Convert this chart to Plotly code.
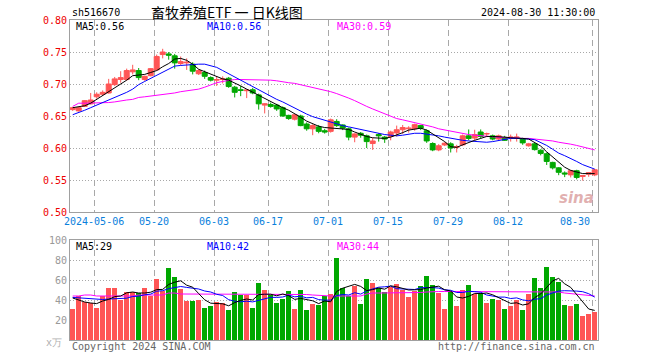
import math
import plotly.graph_objects as go

# ---------------- data ----------------
dates = ["04-25","04-26","04-29","04-30","05-06","05-07","05-08","05-09","05-10","05-13",
         "05-14","05-15","05-16","05-17","05-20","05-21","05-22","05-23","05-24","05-27",
         "05-28","05-29","05-30","05-31","06-03","06-04","06-05","06-06","06-07","06-11",
         "06-12","06-13","06-14","06-17","06-18","06-19","06-20","06-21","06-24","06-25",
         "06-26","06-27","06-28","07-01","07-02","07-03","07-04","07-05","07-08","07-09",
         "07-10","07-11","07-12","07-15","07-16","07-17","07-18","07-19","07-22","07-23",
         "07-24","07-25","07-26","07-29","07-30","07-31","08-01","08-02","08-05","08-06",
         "08-07","08-08","08-09","08-12","08-13","08-14","08-15","08-16","08-19","08-20",
         "08-21","08-22","08-23","08-26","08-27","08-28","08-29","08-30"]

open_ = [0.660,0.658,0.665,0.669,0.680,0.684,0.686,0.699,0.707,0.707,
         0.719,0.721,0.707,0.713,0.722,0.746,0.747,0.744,0.732,0.733,
         0.731,0.716,0.718,0.710,0.706,0.707,0.709,0.695,0.691,0.6895,
         0.691,0.683,0.667,0.668,0.667,0.663,0.651,0.645,0.650,0.6375,
         0.630,0.633,0.627,0.626,0.6415,0.636,0.630,0.617,0.623,0.619,
         0.607,0.621,0.617,0.618,0.6235,0.6285,0.630,0.630,0.635,0.627,
         0.607,0.597,0.6047,0.6065,0.601,0.605,0.619,0.6155,0.625,0.622,
         0.619,0.614,0.6165,0.616,0.616,0.6145,0.6035,0.6065,0.5965,0.591,
         0.5775,0.569,0.561,0.558,0.5645,0.5555,0.559,0.558]
high = [0.664,0.664,0.675,0.686,0.687,0.690,0.708,0.711,0.720,0.724,
        0.730,0.725,0.713,0.725,0.746,0.755,0.750,0.747,0.743,0.740,
        0.734,0.723,0.721,0.712,0.712,0.712,0.711,0.697,0.697,0.692,
        0.694,0.685,0.670,0.671,0.669,0.665,0.652,0.653,0.652,0.640,
        0.637,0.636,0.630,0.646,0.645,0.637,0.632,0.623,0.625,0.621,
        0.6155,0.623,0.619,0.627,0.635,0.636,0.634,0.638,0.636,0.629,
        0.609,0.606,0.609,0.609,0.605,0.621,0.629,0.6285,0.629,0.624,
        0.621,0.621,0.619,0.621,0.6225,0.616,0.608,0.608,0.598,0.593,
        0.5785,0.570,0.5635,0.566,0.566,0.557,0.5625,0.5675]
low = [0.658,0.657,0.664,0.668,0.677,0.682,0.685,0.697,0.702,0.705,
       0.715,0.706,0.705,0.712,0.721,0.740,0.738,0.724,0.729,0.722,
       0.715,0.714,0.708,0.704,0.697,0.701,0.694,0.679,0.681,0.678,
       0.684,0.660,0.654,0.663,0.658,0.649,0.644,0.643,0.634,0.627,
       0.620,0.623,0.6225,0.624,0.633,0.628,0.612,0.609,0.616,0.600,
       0.597,0.610,0.608,0.612,0.618,0.622,0.624,0.627,0.628,0.608,
       0.595,0.595,0.603,0.593,0.593,0.603,0.612,0.612,0.615,0.617,
       0.612,0.611,0.611,0.610,0.610,0.605,0.602,0.596,0.5885,0.5735,
       0.5665,0.5575,0.5545,0.554,0.551,0.549,0.555,0.556]
close = [0.663,0.663,0.674,0.675,0.684,0.687,0.700,0.708,0.710,0.721,
         0.722,0.710,0.712,0.724,0.743,0.750,0.745,0.733,0.735,0.734,
         0.720,0.721,0.712,0.706,0.707,0.708,0.696,0.687,0.690,0.6905,
         0.686,0.669,0.669,0.665,0.661,0.650,0.646,0.652,0.635,0.630,
         0.635,0.626,0.625,0.644,0.635,0.631,0.617,0.622,0.620,0.610,
         0.611,0.619,0.614,0.625,0.6285,0.632,0.631,0.6365,0.631,0.611,
         0.597,0.6035,0.6075,0.600,0.602,0.619,0.615,0.621,0.618,0.6225,
         0.614,0.619,0.612,0.617,0.617,0.608,0.6065,0.5975,0.5915,0.579,
         0.569,0.562,0.5595,0.5645,0.554,0.557,0.5615,0.566]

ma5 = [0.663,0.664,0.666,0.670,0.676,0.681,0.687,0.694,0.700,0.706,
       0.713,0.714,0.715,0.718,0.721,0.727,0.732,0.739,0.740,0.737,
       0.731,0.723,0.719,0.715,0.711,0.708,0.706,0.702,0.697,0.692,
       0.687,0.682,0.677,0.672,0.668,0.663,0.659,0.654,0.648,0.642,
       0.638,0.634,0.632,0.631,0.631,0.630,0.629,0.625,0.621,0.618,
       0.616,0.615,0.615,0.617,0.620,0.624,0.628,0.630,0.631,0.628,
       0.622,0.617,0.610,0.602,0.601,0.605,0.609,0.612,0.615,0.618,
       0.618,0.618,0.617,0.616,0.616,0.615,0.614,0.609,0.603,0.594,
       0.586,0.577,0.570,0.565,0.562,0.560,0.560,0.560]
ma10 = [0.652,0.655,0.659,0.663,0.667,0.671,0.675,0.679,0.682,0.687,
        0.692,0.699,0.704,0.709,0.714,0.718,0.723,0.728,0.729,0.730,
        0.730,0.731,0.731,0.729,0.726,0.721,0.716,0.711,0.706,0.700,
        0.695,0.690,0.685,0.681,0.676,0.672,0.667,0.662,0.657,0.653,
        0.649,0.646,0.644,0.641,0.638,0.635,0.633,0.631,0.628,0.626,
        0.624,0.622,0.621,0.620,0.619,0.620,0.622,0.623,0.623,0.622,
        0.621,0.619,0.617,0.615,0.613,0.612,0.611,0.610,0.609,0.609,
        0.610,0.612,0.613,0.615,0.615,0.615,0.614,0.613,0.609,0.604,
        0.598,0.592,0.588,0.584,0.579,0.574,0.570,0.567]
ma30 = [0.665,0.670,0.670,0.670,0.671,0.671,0.671,0.672,0.674,0.675,
        0.676,0.679,0.680,0.681,0.682,0.684,0.685,0.686,0.688,0.689,
        0.690,0.692,0.695,0.699,0.702,0.704,0.706,0.707,0.707,0.707,
        0.707,0.707,0.707,0.706,0.705,0.703,0.702,0.701,0.699,0.697,
        0.695,0.693,0.691,0.688,0.685,0.682,0.678,0.674,0.669,0.665,
        0.661,0.657,0.653,0.649,0.646,0.644,0.642,0.640,0.638,0.636,
        0.633,0.630,0.628,0.626,0.624,0.622,0.621,0.620,0.619,0.618,
        0.617,0.617,0.616,0.616,0.615,0.615,0.615,0.614,0.614,0.613,
        0.611,0.609,0.608,0.606,0.604,0.602,0.600,0.597]

volume = [31,44,38,37,32,44,52,52,40,48,
          48,47,52,44,61,49,72,63,51,39,
          39,40,32,34,38,37,30,48,45,45,
          32,57,50,45,37,41,49,31,50,30,
          36,35,44,46,82,52,44,54,36,61,
          57,52,48,53,56,50,43,49,54,64,
          55,47,31,48,34,50,55,46,47,37,
          41,40,31,34,40,30,46,62,52,73,
          63,58,35,34,36,24,26,28]
vma5 = [42,40,38,37,36.4,39,40.6,43.4,44,47.2,
        48,47,47,47.8,50.4,50.6,55.6,57.8,59.2,54.8,
        52.8,46.4,40.2,36.8,36.6,36.2,34.2,37.4,39.6,41,
        40,45.4,45.8,45.8,44.2,46,44.4,40.6,41.6,40.2,
        39.2,36.4,39,38.2,48.6,51.8,53.6,55.6,53.6,49.4,
        50.4,52,50.8,54.2,53.2,51.8,50,50.2,50.4,52,
        53,53.8,50.2,49,43,42,43.6,46.6,46.4,47,
        45.2,42.2,39.2,36.6,37.2,35,36.2,42.4,46,52.6,
        59.2,61.6,56.2,52.6,45.2,37.4,31,29.6]
vma10 = [42.6,42.2,41.6,41,40.4,40.5,41,41.3,42,41.8,
         43.5,43.8,45.2,45.9,48.8,49.3,51.3,52.4,53.5,52.6,
         51.7,51,49,48,45.7,44.5,40.3,38.8,38.2,38.8,
         38.1,39.8,41.6,42.7,42.6,43,44.9,43.2,43.7,42.2,
         42.6,40.4,39.8,39.9,44.4,45.5,45,47.3,45.9,49,
         51.1,52.8,53.2,53.9,51.3,51.1,51,50.5,52.3,52.6,
         52.4,51.9,50.2,49.7,47.5,47.5,48.7,48.4,47.7,45,
         43.6,42.9,42.9,41.5,42.1,40.1,39.2,40.8,41.3,44.9,
         47.1,48.9,49.3,49.3,48.9,48.3,46.3,42.9]
vma30 = [44,44,45,45,44,44,44,44,44,44,
         44,45,45,45,45,45,47,47,46,46,
         46,46,46,46,46,46,46,46,46,46,
         46,46,46,46,46,46,46,46,46,45.5,
         45,44.5,44,44,44,44,44,44,44,46,
         47,47,47,47,47,47,47,47,47.5,48,
         48.5,48.5,48.5,48.5,48.5,48.5,48.5,48.5,48.5,48.5,
         48.5,48.5,48.5,48.5,48.5,48.5,48.5,48,48,48.5,
         48.5,48,47,46.5,46,45,44.5,44]

price_ticks = [0.50, 0.55, 0.60, 0.65, 0.70, 0.75, 0.80]
vol_ticks = [20, 40, 60, 80, 100]
label_dates = ["2024-05-06", "05-20", "06-03", "06-17", "07-01", "07-15", "07-29", "08-12", "08-30"]
label_days = ["05-06", "05-20", "06-03", "06-17", "07-01", "07-15", "07-29", "08-12", "08-30"]

# ---------------- figure ----------------
RED = "#ff5555"
GREEN = "#00a800"
FONT = "DejaVu Sans Mono"
GRID = "#a8a8a8"
FRAME = "#a0a0a0"

def trunc2(v):
    return "%.2f" % (math.floor(v * 100 + 1e-9) / 100)

x = list(range(len(dates)))
grid_x = [dates.index(d) - 0.38 for d in label_days]

fig = go.Figure()
fig.add_trace(go.Candlestick(
    x=x, open=open_, high=high, low=low, close=close,
    increasing=dict(line=dict(color=RED, width=1), fillcolor=RED),
    decreasing=dict(line=dict(color=GREEN, width=1), fillcolor=GREEN),
    whiskerwidth=0, xaxis="x", yaxis="y", showlegend=False, hoverinfo="skip"))
for arr, col in [(ma30, "#ff00ff"), (ma10, "#0000ff"), (ma5, "#000000")]:
    fig.add_trace(go.Scatter(x=x, y=arr, mode="lines", line=dict(color=col, width=1),
                             xaxis="x", yaxis="y", showlegend=False, hoverinfo="skip"))

bar_colors = [RED if c >= o else GREEN for o, c in zip(open_, close)]
fig.add_trace(go.Bar(x=x, y=volume, marker=dict(color=bar_colors, line=dict(width=0)),
                     width=0.83, xaxis="x2", yaxis="y2", showlegend=False, hoverinfo="skip"))
for arr, col in [(vma30, "#ff00ff"), (vma10, "#0000ff"), (vma5, "#000000")]:
    fig.add_trace(go.Scatter(x=x, y=arr, mode="lines", line=dict(color=col, width=1),
                             xaxis="x2", yaxis="y2", showlegend=False, hoverinfo="skip"))

xcommon = dict(range=[-0.45, 87.55], tickvals=grid_x, showticklabels=False, ticks="",
               showgrid=True, gridcolor=GRID, griddash="6px,4px", gridwidth=1,
               showline=True, mirror=True, linecolor=FRAME, linewidth=1,
               zeroline=False, rangeslider=dict(visible=False), fixedrange=True)

fig.update_layout(
    width=660, height=360,
    margin=dict(l=70, r=62, t=20, b=20),
    paper_bgcolor="white", plot_bgcolor="white",
    font=dict(family=FONT, size=10, color="#000"),
    boxgap=0.17, boxgroupgap=0,
    bargap=0,
    xaxis=dict(domain=[0, 1], anchor="y", **xcommon),
    xaxis2=dict(domain=[0, 1], anchor="y2", matches="x", **xcommon),
    yaxis=dict(domain=[0.4, 1.0], range=[0.5, 0.8], tickvals=price_ticks,
               ticktext=["%.2f" % v for v in price_ticks],
               tickfont=dict(color="#ee0000", family=FONT, size=10), ticks="",
               showgrid=True, gridcolor=GRID, griddash="1px,2px", zeroline=False,
               showline=True, mirror=True, linecolor=FRAME, linewidth=1, fixedrange=True),
    yaxis2=dict(domain=[0, 0.3125], range=[0, 100], tickvals=vol_ticks,
                ticktext=[str(v) for v in vol_ticks],
                tickfont=dict(color="#999999", family=FONT, size=10), ticks="",
                showgrid=True, gridcolor=GRID, griddash="1px,2px", zeroline=False,
                showline=True, mirror=True, linecolor=FRAME, linewidth=1, fixedrange=True),
)

ann = []
def add(text, xp, yp, color="#000", size=10, xanchor="left", family=FONT, xref="paper"):
    ann.append(dict(text=text, x=xp, y=yp, xref=xref, yref="paper", xanchor=xanchor,
                    yanchor="middle", showarrow=False,
                    font=dict(color=color, size=size, family=family)))

def px_x(p):
    return (p - 70) / 528.0
def px_y(p):
    return (340 - p) / 320.0

add("sh516670", px_x(70), px_y(12))
add("畜牧养殖ETF 一 日K线图", px_x(149), px_y(12), size=14, family="Noto Sans CJK SC")
add("2024-08-30 11:30:00", px_x(597), px_y(12), xanchor="right")
add("MA5:" + trunc2(ma5[-1]), px_x(74), px_y(26.5))
add("MA10:" + trunc2(ma10[-1]), px_x(205), px_y(26.5), color="#0000ff")
add("MA30:" + trunc2(ma30[-1]), px_x(335), px_y(26.5), color="#ff00ff")
add("MA5:%d" % int(vma5[-1]), px_x(74), px_y(246.5))
add("MA10:%d" % int(vma10[-1]), px_x(205), px_y(246.5), color="#0000ff")
add("MA30:%d" % int(vma30[-1]), px_x(335), px_y(246.5), color="#ff00ff")
for i, (lab, d) in enumerate(zip(label_dates, label_days)):
    gx = dates.index(d) - 0.38
    add(lab, gx, px_y(221.5), color="#0a80dc",
        xanchor="right" if i == len(label_dates) - 1 else "center", xref="x")
add("x万", px_x(64), px_y(342), color="#b0b0b0", xanchor="right")
add("Copyright 2024 SINA.COM", px_x(70), px_y(346), color="#666666")
add("http://finance.sina.com.cn", px_x(597), px_y(346), color="#666666", xanchor="right")
add("<b><i>sina</i></b>", px_x(596), px_y(198), color="rgba(215,150,150,0.75)", size=15,
    xanchor="right", family="DejaVu Sans")
fig.update_layout(annotations=ann)

fig.write_html("out.html", config={"displayModeBar": False},
               post_script="document.body.style.margin='0';document.body.style.overflow='hidden';")
